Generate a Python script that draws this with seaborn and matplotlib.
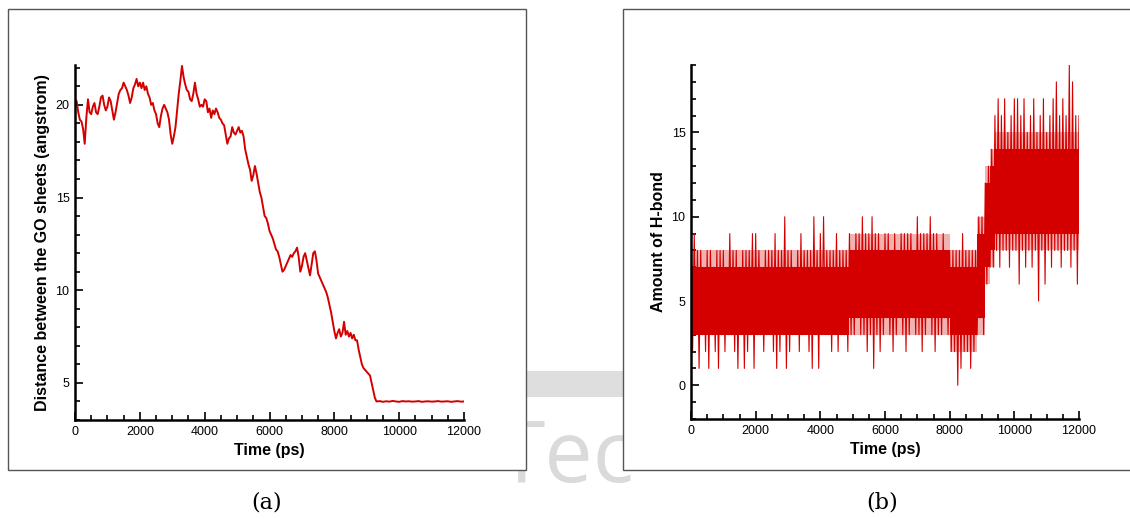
import matplotlib
matplotlib.use('Agg')
import matplotlib.pyplot as plt
import seaborn as sns
import pandas as pd
from matplotlib.ticker import MultipleLocator
from matplotlib.patches import Rectangle

# (a) distance between the GO sheets (angstrom)
time_a_fine = list(range(0, 9300, 50))
dist_fine = [20.3, 20.2, 19.6, 19.2, 19.1, 18.7, 17.9, 19.3, 20.3, 19.6,
             19.5, 19.9, 20.1, 19.6, 19.5, 19.9, 20.4, 20.5, 20.0, 19.7,
             19.9, 20.4, 20.2, 19.7, 19.2, 19.6, 20.1, 20.6, 20.8, 20.9,
             21.2, 21.0, 20.8, 20.5, 20.1, 20.4, 20.9, 21.1, 21.4, 21.0,
             21.2, 20.9, 21.2, 20.8, 21.0, 20.6, 20.4, 20.0, 20.1, 19.7,
             19.5, 19.0, 18.8, 19.4, 19.8, 20.0, 19.8, 19.6, 19.2, 18.4,
             17.9, 18.3, 18.8, 19.7, 20.6, 21.3, 22.1, 21.5, 21.1, 20.8,
             20.7, 20.3, 20.2, 20.6, 21.2, 20.6, 20.3, 19.9, 20.0, 19.9,
             20.3, 20.2, 19.6, 19.8, 19.3, 19.7, 19.5, 19.8, 19.6, 19.3,
             19.2, 19.0, 18.9, 18.4, 17.9, 18.2, 18.3, 18.8, 18.5, 18.4,
             18.6, 18.8, 18.5, 18.6, 18.3, 17.6, 17.2, 16.8, 16.5, 15.9,
             16.2, 16.7, 16.3, 15.8, 15.3, 15.0, 14.5, 14.0, 13.9, 13.6,
             13.2, 13.0, 12.8, 12.5, 12.2, 12.1, 11.8, 11.4, 11.0, 11.1,
             11.3, 11.5, 11.7, 11.9, 11.8, 12.0, 12.1, 12.3, 11.8, 11.0,
             11.3, 11.8, 12.0, 11.6, 11.2, 10.8, 11.4, 12.0, 12.1, 11.6,
             10.9, 10.7, 10.5, 10.3, 10.1, 9.9, 9.6, 9.2, 8.8, 8.3,
             7.8, 7.4, 7.7, 7.9, 7.5, 7.7, 8.3, 7.6, 7.8, 7.5,
             7.7, 7.4, 7.6, 7.3, 7.3, 6.8, 6.4, 6.0, 5.8, 5.7,
             5.6, 5.5, 5.4, 5.0, 4.6, 4.2]
time_a_flat = list(range(9300, 12001, 100))
dist_flat = [4.0, 4.02, 3.98, 4.01, 3.99, 4.03, 4.0, 3.98, 4.02, 4.0,
             4.01, 3.99, 4.0, 4.02, 3.98, 4.0, 4.01, 3.99, 4.0, 4.02,
             3.99, 4.0, 4.01, 3.98, 4.0, 4.02, 3.99, 4.0]

# (b) amount of H-bond, one sample every 50 ps
time_b = list(range(0, 12001, 50))
hbond_0_2500 = [6, 2, 9, 3, 8, 1, 8, 3, 7, 2, 8, 1, 8, 3, 7, 2, 8, 1, 8, 3,
                8, 2, 7, 3, 9, 3, 8, 2, 8, 1, 7, 3, 8, 1, 8, 2, 8, 3, 9, 1,
                9, 3, 8, 3, 7, 2, 8, 3, 8, 3]
hbond_2500_4900 = [8, 2, 9, 1, 8, 2, 8, 3, 10, 1, 8, 2, 8, 3, 7, 3, 8, 2, 9, 3,
                   8, 3, 8, 2, 8, 1, 10, 3, 8, 1, 9, 3, 10, 3, 8, 3, 8, 2, 8, 3,
                   9, 2, 8, 3, 8, 3, 8, 2]
hbond_4900_8000 = [9, 3, 8, 3, 9, 4, 9, 3, 10, 3, 9, 2, 9, 3, 10, 1, 9, 3, 9, 2,
                   8, 3, 9, 4, 9, 3, 8, 2, 9, 3, 8, 4, 9, 3, 9, 2, 9, 3, 9, 4,
                   8, 3, 10, 3, 9, 2, 9, 3, 9, 4, 10, 3, 9, 2, 9, 3, 8, 3, 9, 4,
                   8, 3]
hbond_8000_9400 = [8, 2, 8, 2, 8, 0, 8, 1, 9, 2, 8, 2, 8, 1, 8, 2, 8, 3, 10, 4,
                   10, 3, 12, 6, 13, 7, 14, 7]
hbond_9400_12000 = [16, 8, 17, 7, 16, 8, 17, 8, 15, 7, 16, 8, 17, 8, 17, 6, 16, 8, 17, 7,
                    15, 8, 16, 7, 17, 8, 15, 5, 16, 8, 17, 6, 15, 8, 16, 7, 17, 8, 18, 8,
                    16, 7, 17, 8, 16, 8, 19, 7, 18, 8, 16, 6, 16]
hbond = (hbond_0_2500 + hbond_2500_4900 + hbond_4900_8000
         + hbond_8000_9400 + hbond_9400_12000)

# dense core of the H-bond band (solid) and the looser fringe round it
core_start = [0, 4900, 8000, 8850, 9100, 9250, 9400]
core_lo = [3, 4, 3, 4, 7, 8, 9]
core_hi = [7, 8, 7, 9, 12, 13, 14]
fringe_lo = [3, 3, 2, 3, 6, 7, 8]
fringe_hi = [8, 9, 8, 10, 13, 14, 15]

df_a = pd.DataFrame({'time': time_a_fine + time_a_flat,
                     'distance': dist_fine + dist_flat})
df_b = pd.DataFrame({'time': time_b, 'hbond': hbond})

sns.set_style('ticks')
plt.rcParams['font.family'] = ['Liberation Sans', 'DejaVu Sans']
plt.rcParams['text.color'] = 'black'
plt.rcParams['axes.labelcolor'] = 'black'

red = '#d40000'
fig = plt.figure(figsize=(11.3, 5.19), dpi=100)

# faint watermark behind the panels
fig.add_artist(Rectangle((520 / 1130, 122 / 519), 110 / 1130, 26 / 519,
                         transform=fig.transFigure, facecolor='#dedede',
                         lw=0, zorder=-2))
fig.text(497 / 1130, 37 / 519, 'Tec', fontsize=62, family='Open Sans',
         color='#dadada', ha='left', va='baseline', zorder=-1)

# panel frames
for x0, w in [(8, 518), (623, 520)]:
    fig.add_artist(Rectangle((x0 / 1130, 49 / 519), w / 1130, 461 / 519,
                             transform=fig.transFigure, facecolor='white',
                             edgecolor='#555555', lw=1, zorder=0))

ax1 = fig.add_axes([75 / 1130, 99 / 519, 389 / 1130, 355 / 519])
ax2 = fig.add_axes([691 / 1130, 100 / 519, 388 / 1130, 354 / 519])

sns.lineplot(data=df_a, x='time', y='distance', ax=ax1, color=red,
             linewidth=1.4, estimator=None)

edges = core_start + [12000]
ax2.fill_between(edges, fringe_lo + fringe_lo[-1:], fringe_hi + fringe_hi[-1:],
                 step='post', color=red, alpha=0.3, lw=0)
ax2.fill_between(edges, core_lo + core_lo[-1:], core_hi + core_hi[-1:],
                 step='post', color=red, lw=0)
sns.lineplot(data=df_b, x='time', y='hbond', ax=ax2, color=red,
             linewidth=0.8, estimator=None)

ax1.set_ylim(3, 22.15)
ax2.set_ylim(-2, 19)
ax1.set_ylabel('Distance between the GO sheets (angstrom)', fontsize=11.5,
               fontweight='bold', labelpad=4)
ax2.set_ylabel('Amount of H-bond', fontsize=11.5, fontweight='bold', labelpad=4)

for ax in (ax1, ax2):
    ax.set_facecolor('none')
    ax.set_xlim(0, 12000)
    ax.set_xlabel('Time (ps)', fontsize=11.5, fontweight='bold', labelpad=4)
    ax.xaxis.set_major_locator(MultipleLocator(2000))
    ax.xaxis.set_minor_locator(MultipleLocator(500))
    ax.yaxis.set_major_locator(MultipleLocator(5))
    ax.yaxis.set_minor_locator(MultipleLocator(1))
    ax.tick_params(which='both', direction='in', width=1.2, labelsize=9,
                   colors='black', pad=4)
    ax.tick_params(which='major', length=6)
    ax.tick_params(which='minor', length=3.5)
    sns.despine(ax=ax)
    for s in ('left', 'bottom'):
        ax.spines[s].set_linewidth(1.8)
        ax.spines[s].set_color('black')

fig.text(267 / 1130, 16 / 519, '(a)', fontsize=16, family='DejaVu Serif',
         ha='center', va='center')
fig.text(882 / 1130, 16 / 519, '(b)', fontsize=16, family='DejaVu Serif',
         ha='center', va='center')

fig.savefig('out.png', dpi=100)
